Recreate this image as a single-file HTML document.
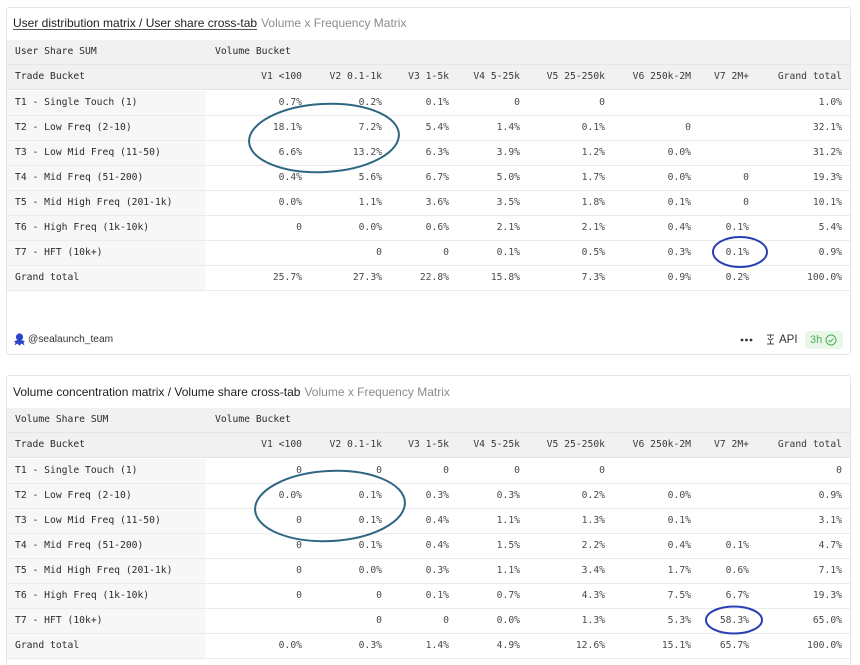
<!DOCTYPE html>
<html><head><meta charset="utf-8">
<style>
*{box-sizing:border-box;margin:0;padding:0}
html,body{width:860px;height:665px;overflow:hidden;background:#fff}
body{position:relative;font-family:"Liberation Sans",sans-serif;color:#222}
.card{position:absolute;left:6px;width:845px;border:1px solid #e4e4e4;border-radius:3px;background:#fff}
.title{position:absolute;left:13px;font-size:12px;white-space:nowrap;line-height:14px;color:#1e1e1e}
.title .sub{color:#8c8c8c;margin-left:4px}
.title u{text-decoration:underline;text-decoration-color:#555;text-underline-offset:2px}
.row{position:absolute;left:7px;width:843px;height:25.1px;display:flex;border-bottom:1px solid #ebebeb;font-family:"DejaVu Sans Mono","Liberation Mono",monospace;font-size:9.7px;line-height:24px;color:#4a4a4a;white-space:nowrap}
.row.h{background:#f1f1f1;color:#333;border-bottom:1px solid #e4e4e4}
.row>div{height:100%;overflow:hidden}
.lab{width:199px;padding-left:8px;background:#f7f7f7;color:#2a2a2a}
.row.h .lab{background:transparent}
.c{text-align:right;padding-right:8px}
.w1{width:104px}.w2{width:80px}.w3{width:67px}.w4{width:71px}.w5{width:85px}.w6{width:86px}.w7{width:58px}.w8{width:93px}
.vb{padding-left:9px;color:#2a2a2a}
.row.h .c{color:#3a3a3a}
.foot{position:absolute;top:333px;font-size:10.2px;line-height:14px;color:#333;white-space:nowrap}
</style></head><body>

<!-- Card 1 -->
<div class="card" style="top:7px;height:348px"></div>
<div class="title" style="top:16px"><u>User distribution matrix / User share cross-tab</u><span class="sub">Volume x Frequency Matrix</span></div>

<div class="row h" style="top:40.3px"><div class="lab">User Share SUM</div><div class="vb" style="width:644px">Volume Bucket</div></div>
<div class="row h" style="top:65.4px"><div class="lab">Trade Bucket</div><div class="c w1">V1 &lt;100</div><div class="c w2">V2 0.1-1k</div><div class="c w3">V3 1-5k</div><div class="c w4">V4 5-25k</div><div class="c w5">V5 25-250k</div><div class="c w6">V6 250k-2M</div><div class="c w7">V7 2M+</div><div class="c w8">Grand total</div></div>
<div class="row" style="top:90.5px"><div class="lab">T1 - Single Touch (1)</div><div class="c w1">0.7%</div><div class="c w2">0.2%</div><div class="c w3">0.1%</div><div class="c w4">0</div><div class="c w5">0</div><div class="c w6"></div><div class="c w7"></div><div class="c w8">1.0%</div></div>
<div class="row" style="top:115.6px"><div class="lab">T2 - Low Freq (2-10)</div><div class="c w1">18.1%</div><div class="c w2">7.2%</div><div class="c w3">5.4%</div><div class="c w4">1.4%</div><div class="c w5">0.1%</div><div class="c w6">0</div><div class="c w7"></div><div class="c w8">32.1%</div></div>
<div class="row" style="top:140.7px"><div class="lab">T3 - Low Mid Freq (11-50)</div><div class="c w1">6.6%</div><div class="c w2">13.2%</div><div class="c w3">6.3%</div><div class="c w4">3.9%</div><div class="c w5">1.2%</div><div class="c w6">0.0%</div><div class="c w7"></div><div class="c w8">31.2%</div></div>
<div class="row" style="top:165.8px"><div class="lab">T4 - Mid Freq (51-200)</div><div class="c w1">0.4%</div><div class="c w2">5.6%</div><div class="c w3">6.7%</div><div class="c w4">5.0%</div><div class="c w5">1.7%</div><div class="c w6">0.0%</div><div class="c w7">0</div><div class="c w8">19.3%</div></div>
<div class="row" style="top:190.9px"><div class="lab">T5 - Mid High Freq (201-1k)</div><div class="c w1">0.0%</div><div class="c w2">1.1%</div><div class="c w3">3.6%</div><div class="c w4">3.5%</div><div class="c w5">1.8%</div><div class="c w6">0.1%</div><div class="c w7">0</div><div class="c w8">10.1%</div></div>
<div class="row" style="top:216px"><div class="lab">T6 - High Freq (1k-10k)</div><div class="c w1">0</div><div class="c w2">0.0%</div><div class="c w3">0.6%</div><div class="c w4">2.1%</div><div class="c w5">2.1%</div><div class="c w6">0.4%</div><div class="c w7">0.1%</div><div class="c w8">5.4%</div></div>
<div class="row" style="top:241.1px"><div class="lab">T7 - HFT (10k+)</div><div class="c w1"></div><div class="c w2">0</div><div class="c w3">0</div><div class="c w4">0.1%</div><div class="c w5">0.5%</div><div class="c w6">0.3%</div><div class="c w7">0.1%</div><div class="c w8">0.9%</div></div>
<div class="row g" style="top:266.2px"><div class="lab">Grand total</div><div class="c w1">25.7%</div><div class="c w2">27.3%</div><div class="c w3">22.8%</div><div class="c w4">15.8%</div><div class="c w5">7.3%</div><div class="c w6">0.9%</div><div class="c w7">0.2%</div><div class="c w8">100.0%</div></div>

<!-- footer -->
<svg style="position:absolute;left:13px;top:333px" width="13" height="13" viewBox="0 0 13 13">
  <circle cx="6.5" cy="4" r="3.6" fill="#2a45c8"/>
  <path d="M1 8.5 Q6.5 5 12 8.5 L10.5 9.5 L11.5 12.5 L8.5 10.5 L6.5 12.8 L4.5 10.5 L1.5 12.5 L2.5 9.5 Z" fill="#2a45c8"/>
</svg>
<div class="foot" style="left:28px">@sealaunch_team</div>
<svg style="position:absolute;left:740px;top:338px" width="13" height="4" viewBox="0 0 13 4">
  <circle cx="2" cy="2" r="1.4" fill="#333"/><circle cx="6.5" cy="2" r="1.4" fill="#333"/><circle cx="11" cy="2" r="1.4" fill="#333"/>
</svg>
<svg style="position:absolute;left:765px;top:333px" width="11" height="13" viewBox="0 0 11 13">
  <path d="M2 2 L9 2 M5.5 2 L5.5 5 M3 5 Q5.5 9 8 5 M5.5 8 L5.5 11 M2 11 L9 11" stroke="#444" stroke-width="1" fill="none"/>
</svg>
<div class="foot" style="left:779px;font-size:11.5px;top:333px">API</div>
<div style="position:absolute;left:805px;top:331px;width:38px;height:18px;border-radius:4px;background:#e9f7ea;color:#4caf50;font-size:11px;line-height:18px;padding-left:5px;white-space:nowrap">3h
  <svg style="position:absolute;left:20px;top:3px" width="12" height="12" viewBox="0 0 12 12"><circle cx="6" cy="6" r="5" stroke="#4caf50" stroke-width="1" fill="none"/><path d="M3.6 6.2 L5.3 7.8 L8.4 4.6" stroke="#4caf50" stroke-width="1" fill="none"/></svg>
</div>

<!-- Card 2 -->
<div class="card" style="top:375px;height:300px"></div>
<div class="title" style="top:385px">Volume concentration matrix / Volume share cross-tab<span class="sub">Volume x Frequency Matrix</span></div>

<div class="row h" style="top:408.3px"><div class="lab">Volume Share SUM</div><div class="vb" style="width:644px">Volume Bucket</div></div>
<div class="row h" style="top:433.4px"><div class="lab">Trade Bucket</div><div class="c w1">V1 &lt;100</div><div class="c w2">V2 0.1-1k</div><div class="c w3">V3 1-5k</div><div class="c w4">V4 5-25k</div><div class="c w5">V5 25-250k</div><div class="c w6">V6 250k-2M</div><div class="c w7">V7 2M+</div><div class="c w8">Grand total</div></div>
<div class="row" style="top:458.5px"><div class="lab">T1 - Single Touch (1)</div><div class="c w1">0</div><div class="c w2">0</div><div class="c w3">0</div><div class="c w4">0</div><div class="c w5">0</div><div class="c w6"></div><div class="c w7"></div><div class="c w8">0</div></div>
<div class="row" style="top:483.6px"><div class="lab">T2 - Low Freq (2-10)</div><div class="c w1">0.0%</div><div class="c w2">0.1%</div><div class="c w3">0.3%</div><div class="c w4">0.3%</div><div class="c w5">0.2%</div><div class="c w6">0.0%</div><div class="c w7"></div><div class="c w8">0.9%</div></div>
<div class="row" style="top:508.7px"><div class="lab">T3 - Low Mid Freq (11-50)</div><div class="c w1">0</div><div class="c w2">0.1%</div><div class="c w3">0.4%</div><div class="c w4">1.1%</div><div class="c w5">1.3%</div><div class="c w6">0.1%</div><div class="c w7"></div><div class="c w8">3.1%</div></div>
<div class="row" style="top:533.8px"><div class="lab">T4 - Mid Freq (51-200)</div><div class="c w1">0</div><div class="c w2">0.1%</div><div class="c w3">0.4%</div><div class="c w4">1.5%</div><div class="c w5">2.2%</div><div class="c w6">0.4%</div><div class="c w7">0.1%</div><div class="c w8">4.7%</div></div>
<div class="row" style="top:558.9px"><div class="lab">T5 - Mid High Freq (201-1k)</div><div class="c w1">0</div><div class="c w2">0.0%</div><div class="c w3">0.3%</div><div class="c w4">1.1%</div><div class="c w5">3.4%</div><div class="c w6">1.7%</div><div class="c w7">0.6%</div><div class="c w8">7.1%</div></div>
<div class="row" style="top:584px"><div class="lab">T6 - High Freq (1k-10k)</div><div class="c w1">0</div><div class="c w2">0</div><div class="c w3">0.1%</div><div class="c w4">0.7%</div><div class="c w5">4.3%</div><div class="c w6">7.5%</div><div class="c w7">6.7%</div><div class="c w8">19.3%</div></div>
<div class="row" style="top:609.1px"><div class="lab">T7 - HFT (10k+)</div><div class="c w1"></div><div class="c w2">0</div><div class="c w3">0</div><div class="c w4">0.0%</div><div class="c w5">1.3%</div><div class="c w6">5.3%</div><div class="c w7">58.3%</div><div class="c w8">65.0%</div></div>
<div class="row g" style="top:634.2px"><div class="lab">Grand total</div><div class="c w1">0.0%</div><div class="c w2">0.3%</div><div class="c w3">1.4%</div><div class="c w4">4.9%</div><div class="c w5">12.6%</div><div class="c w6">15.1%</div><div class="c w7">65.7%</div><div class="c w8">100.0%</div></div>

<!-- annotation ellipses -->
<svg style="position:absolute;left:0;top:0;pointer-events:none" width="860" height="665" viewBox="0 0 860 665">
  <ellipse cx="324" cy="138" rx="75" ry="34" fill="none" stroke="#2f6682" stroke-width="2" transform="rotate(-3 324 138)"/>
  <ellipse cx="740" cy="252" rx="27" ry="15" fill="none" stroke="#2a3fb4" stroke-width="2"/>
  <ellipse cx="330" cy="506" rx="75" ry="35" fill="none" stroke="#2f6682" stroke-width="2" transform="rotate(-3 330 506)"/>
  <ellipse cx="734" cy="620" rx="28" ry="13.5" fill="none" stroke="#2a3fb4" stroke-width="2"/>
</svg>
</body></html>
